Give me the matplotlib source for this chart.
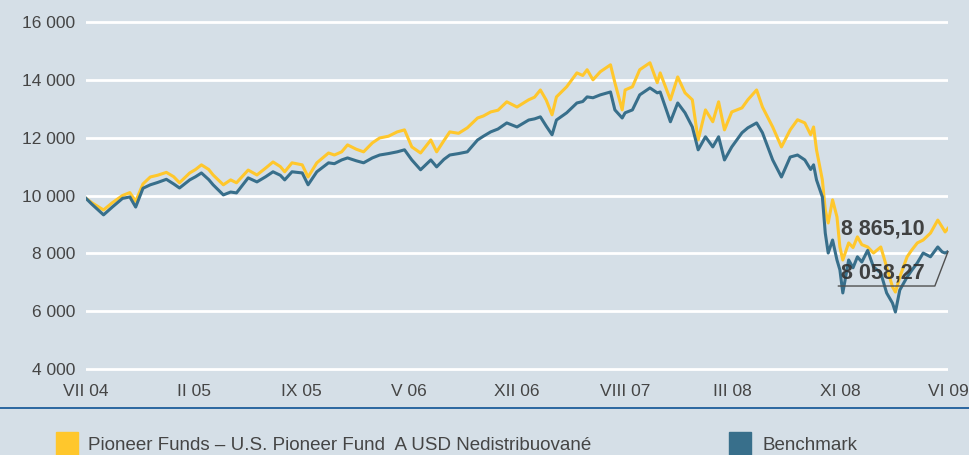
"""
Fund vs benchmark performance chart (VII 04 - VI 09), values read off the factsheet.
"""
import matplotlib
matplotlib.use("Agg")
import matplotlib.pyplot as plt
from matplotlib.patches import Rectangle
import numpy as np

plt.rcParams["font.family"] = ["Liberation Sans Narrow", "Liberation Sans", "DejaVu Sans"]

# months since VII 2004
months = [
    0.0, 0.4, 1.2, 1.8, 2.5, 3.0, 3.4, 3.9, 4.4, 4.9, 5.5, 6.0,
    6.4, 7.1, 7.5, 7.9, 8.4, 8.7, 9.4, 9.9, 10.3, 11.1, 11.7,
    12.3, 12.8, 13.3, 13.6, 14.1, 14.8, 15.2, 15.8, 16.6, 17.0, 17.5,
    17.9, 18.5, 19.0, 19.6, 20.1, 20.7, 21.3, 21.8, 22.3, 22.9, 23.6,
    24.0, 24.5, 24.9, 25.5, 26.1, 26.8, 27.2, 27.7, 28.2, 28.8, 29.5,
    30.3, 30.7, 31.1, 31.5, 31.9, 32.2, 32.9, 33.6, 34.0, 34.3, 34.7,
    35.2, 35.9, 36.2, 36.7, 36.9, 37.4, 37.9, 38.6, 39.1, 39.3, 40.0,
    40.5, 41.0, 41.5, 41.9, 42.4, 42.9, 43.3, 43.7, 44.2, 44.9, 45.3,
    45.9, 46.3, 47.0, 47.6, 48.2, 48.7, 49.2, 49.6, 49.8, 50.0, 50.4,
    50.6, 50.8, 51.1, 51.4, 51.6, 51.8, 52.2, 52.5, 52.8, 53.1, 53.5, 53.9, 54.4,
    54.8, 55.2, 55.4, 55.7, 56.2, 56.5, 56.9, 57.3, 57.8, 58.3, 58.6, 58.8, 59.0,
]

fund = [
    9900, 9750, 9500, 9750, 10000, 10100, 9800, 10400, 10640, 10700, 10800, 10650,
    10440, 10780, 10900, 11060, 10900, 10710, 10370, 10540, 10440, 10880, 10710,
    10950, 11160, 11000, 10820, 11130, 11060, 10640, 11130, 11470, 11400, 11510,
    11750, 11600, 11510, 11820, 11990, 12050, 12200, 12270, 11680, 11470, 11920,
    11510, 11900, 12200, 12150, 12340, 12680, 12750, 12890, 12950, 13240, 13060,
    13310, 13400, 13650, 13300, 12790, 13410, 13760, 14240, 14150, 14350, 14000,
    14280, 14520, 13900, 12960, 13650, 13760, 14350, 14590, 13900, 14240, 13310,
    14100, 13550, 13310, 11920, 12960, 12550, 13240, 12270, 12890, 13030, 13310,
    13650, 13060, 12370, 11680, 12270, 12620, 12510, 12100, 12370, 11580, 10540,
    9500, 9050, 9850, 9260, 8220, 7770, 8360, 8200, 8570, 8300, 8220, 8010, 8220,
    7530, 6840, 6660, 7180, 7880, 8100, 8360, 8460, 8700, 9150, 8910, 8740, 8865.10,
]

benchmark = [
    9900, 9700, 9330, 9600, 9900, 9950, 9600, 10250, 10370, 10450, 10560, 10400,
    10260, 10540, 10650, 10780, 10550, 10370, 10020, 10120, 10090, 10610, 10470,
    10650, 10820, 10700, 10540, 10820, 10780, 10370, 10820, 11130, 11100, 11230,
    11300, 11200, 11130, 11300, 11400, 11450, 11510, 11580, 11230, 10890, 11230,
    10990, 11250, 11400, 11450, 11510, 11920, 12050, 12200, 12300, 12510, 12370,
    12610, 12650, 12720, 12400, 12100, 12610, 12860, 13200, 13250, 13410, 13380,
    13480, 13580, 12960, 12680, 12860, 12960, 13480, 13720, 13550, 13580, 12550,
    13200, 12860, 12370, 11580, 12030, 11680, 12030, 11230, 11680, 12170, 12340,
    12510, 12170, 11230, 10640, 11330, 11400, 11230, 10900, 11060, 10540, 9950,
    8700, 8010, 8460, 7770, 7430, 6630, 7770, 7500, 7880, 7700, 8100, 7530, 7320,
    6630, 6280, 5970, 6730, 7180, 7400, 7670, 8010, 7880, 8220, 8050, 8010, 8058.27,
]

tick_labels = ["VII 04", "II 05", "IX 05", "V 06", "XII 06", "VIII 07", "III 08", "XI 08", "VI 09"]
y_ticks = [4000, 6000, 8000, 10000, 12000, 14000, 16000]
series_names = ["Pioneer Funds – U.S. Pioneer Fund  A USD Nedistribuované", "Benchmark"]
last_values = ["8 865,10", "8 058,27"]

BG = "#d5dfe7"
YELLOW = "#ffc72c"
TEAL = "#386f8b"
TXT = "#454545"

W, H = 969, 455
fig = plt.figure(figsize=(W / 100, H / 100), dpi=100, facecolor=BG)

y0, y1 = 3900, 16100
px_per_unit = (369 - 22) / 12000
bottom_px = 369 + (4000 - y0) * px_per_unit
top_px = 22 - (y1 - 16000) * px_per_unit
ax = fig.add_axes([86 / W, 1 - bottom_px / H, (948 - 86) / W, (bottom_px - top_px) / H])
ax.set_facecolor(BG)
for s in ax.spines.values():
    s.set_visible(False)

ax.set_xlim(0, 59)
ax.set_ylim(y0, y1)
ax.set_yticks(y_ticks)
ax.set_yticklabels([f"{v:,}".replace(",", " ") for v in y_ticks])
ax.set_xticks(np.linspace(0, 59, len(tick_labels)))
ax.set_xticklabels(tick_labels)
ax.tick_params(length=0, labelsize=12.5, colors=TXT)
ax.tick_params(axis="y", pad=8)
ax.tick_params(axis="x", pad=9)
ax.grid(axis="y", color="white", linewidth=2)
ax.set_axisbelow(True)

ax.plot(months, benchmark, color=TEAL, linewidth=2.2, zorder=3)
ax.plot(months, fund, color=YELLOW, linewidth=2.2, zorder=2)

# final value labels and leader line
ax.plot([51.5, 58.1, 59.0], [6870, 6870, benchmark[-1]], color="#505050",
        linewidth=1, zorder=4, clip_on=False)
ax.text(51.7, 8840, last_values[0], fontsize=15.5, fontweight="bold", color="#333333",
        ha="left", va="center", zorder=5, alpha=0.92)
ax.text(51.7, 7320, last_values[1], fontsize=15.5, fontweight="bold", color="#333333",
        ha="left", va="center", zorder=5, alpha=0.92)

# separator line and legend
fig.add_artist(plt.Line2D([0, 1], [1 - 408 / H, 1 - 408 / H], color="#2a66a0", linewidth=1.4))
fig.add_artist(Rectangle((56 / W, 0), 22 / W, 23 / H, color=YELLOW, transform=fig.transFigure))
fig.add_artist(Rectangle((729 / W, 0), 22 / W, 23 / H, color=TEAL, transform=fig.transFigure))
fig.text(88 / W, 1 - 446 / H, series_names[0], fontsize=13.5, color=TXT, va="center")
fig.text(762 / W, 1 - 446 / H, series_names[1], fontsize=13.5, color=TXT, va="center")

fig.savefig("out.png", dpi=100, facecolor=BG)
